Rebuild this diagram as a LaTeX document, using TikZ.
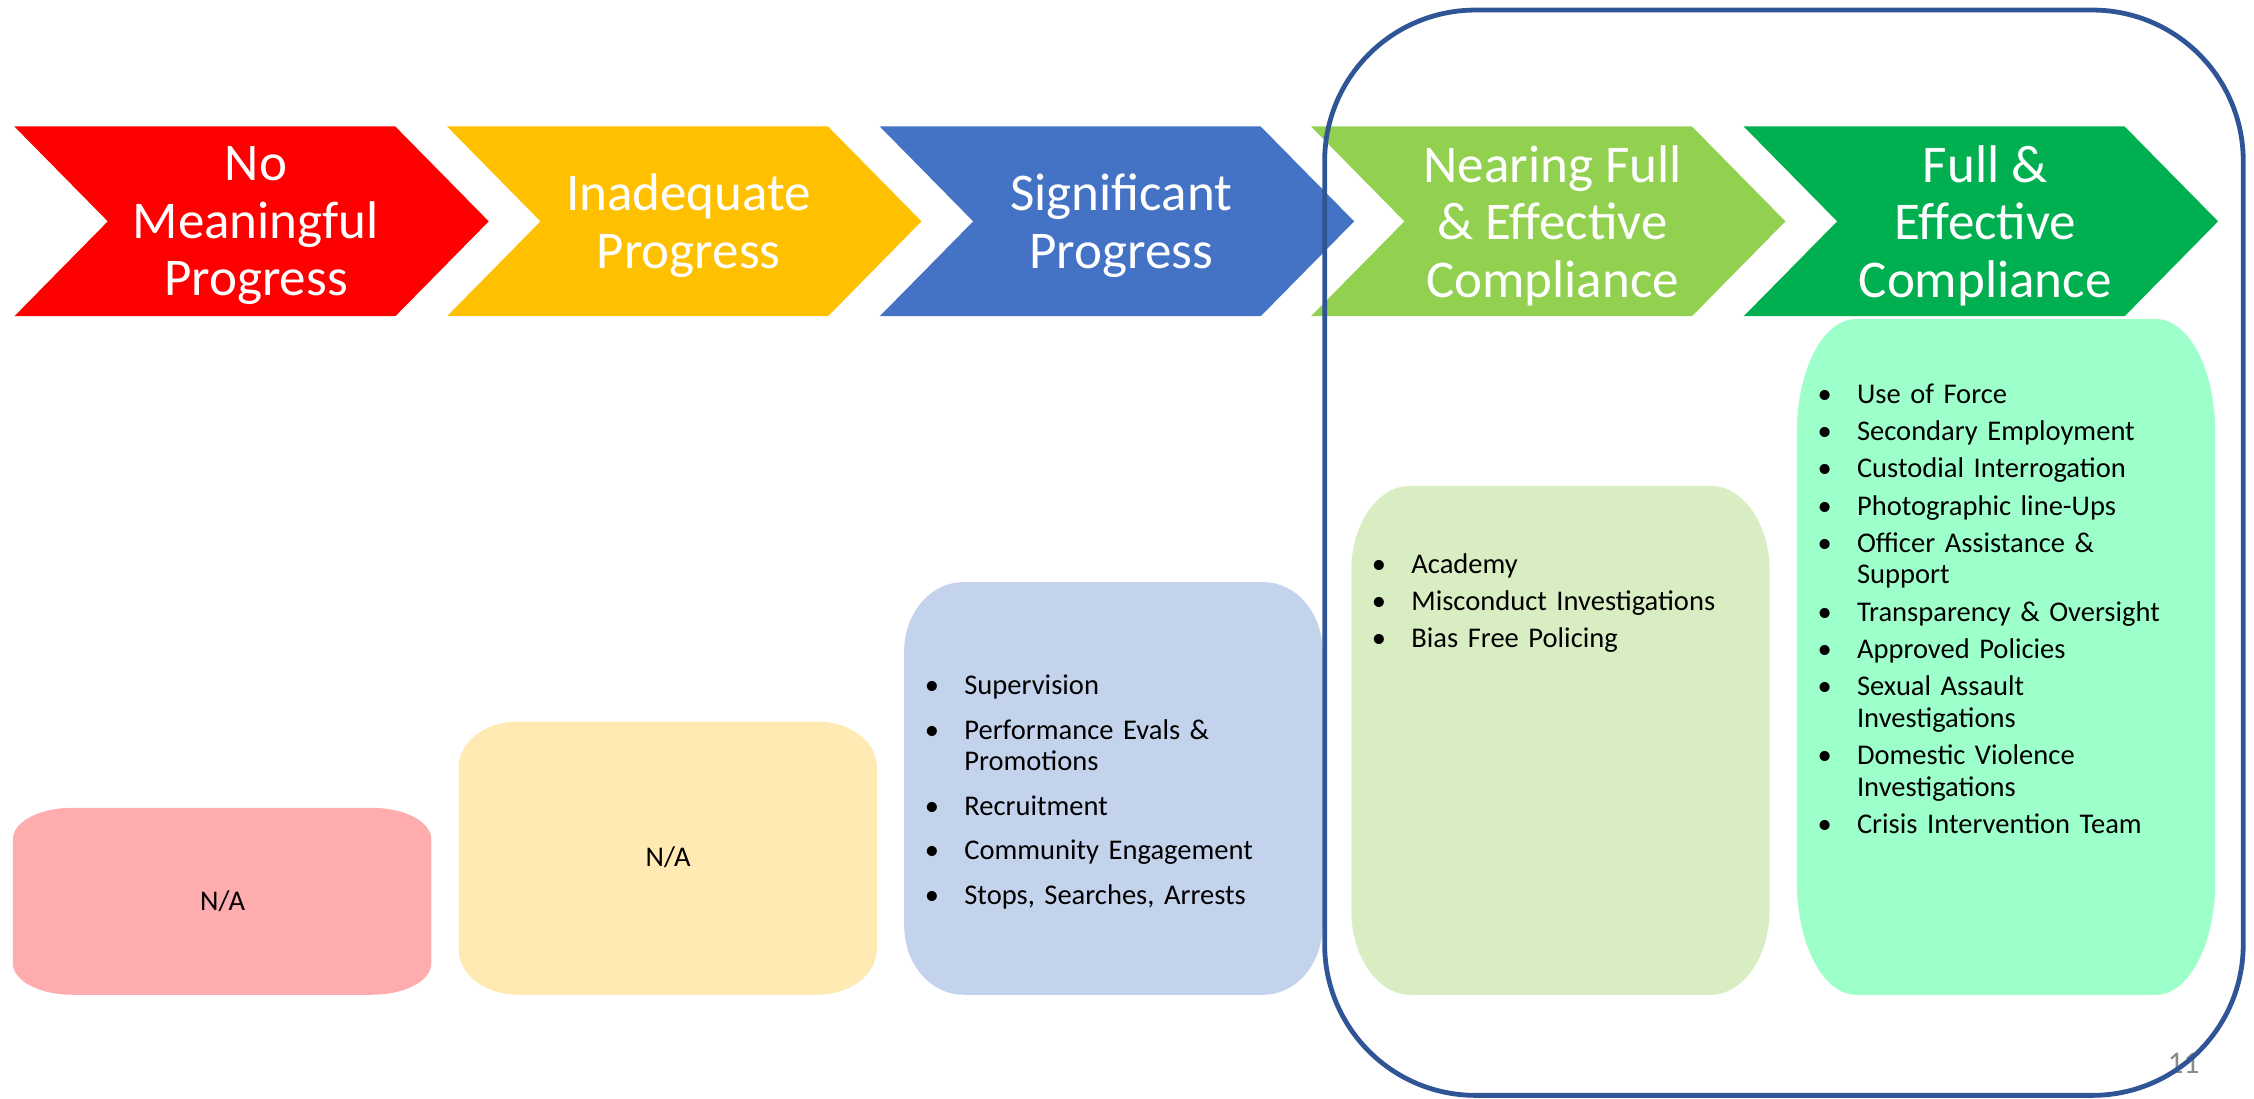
\documentclass[tikz,border=0pt]{standalone}
\usepackage{fontspec}
\setmainfont{Carlito}
\usetikzlibrary{positioning}

\definecolor{chred}{HTML}{FF0000}
\definecolor{chyel}{HTML}{FFC000}
\definecolor{chblu}{HTML}{4472C4}
\definecolor{chlgr}{HTML}{92D050}
\definecolor{chgrn}{HTML}{00B050}
\definecolor{bxred}{HTML}{FFACAE}
\definecolor{bxyel}{HTML}{FFEAB4}
\definecolor{bxblu}{HTML}{C3D3EC}
\definecolor{bxlgr}{HTML}{D9EDC3}
\definecolor{bxgrn}{HTML}{9DFFCA}
\definecolor{frameblue}{HTML}{2F5597}
\definecolor{pagegray}{HTML}{8B8B8B}

% bullet line with hanging indent
\newcommand{\bul}[1]{\hangindent=0.55cm\hangafter=1\noindent\makebox[0.55cm][l]{\textbullet}#1\par}

\tikzset{
  stage/.style={text=white, align=center, inner sep=0pt, font=\fontsize{21}{22.8}\selectfont},
  boxnode/.style={inner sep=0pt, anchor=south west, minimum width=5.82cm, font=\fontsize{11.3}{12.6}\selectfont},
  list/.style={inner sep=0pt, text width=5.3cm, align=left, font=\fontsize{11.3}{12.6}\selectfont},
  frame/.style={draw=frameblue, line width=1.9pt, rounded corners=2.1cm},
  pagenum/.style={text=pagegray, font=\fontsize{12.5}{14}\selectfont}
}

\begin{document}
\begin{tikzpicture}[x=0.02cm, y=0.02cm]

  \useasboundingbox (0,0) rectangle (1568,764);

  % Chevrons
  \foreach \x/\c/\n/\t in {10/chred/nmp/{No\\Meaningful\\Progress},
                           311/chyel/iap/{Inadequate\\Progress},
                           612/chblu/sip/{Significant\\Progress},
                           912/chlgr/nfc/{Nearing Full\\\& Effective\\Compliance},
                           1213/chgrn/ffc/{Full \&\\Effective\\Compliance}} {
    \fill[\c] (\x,676) -- ++(265,0) -- ++(65,-66) -- ++(-65,-66) -- ++(-265,0) -- ++(65,66) -- cycle;
    \node[stage] (\n) at (\x+168,607) {\t};
  }

  % Boxes
  \foreach \x/\h/\c/\i in {9/130/bxred/1, 319/190/bxyel/2, 629/287/bxblu/3,
                           940/354/bxlgr/4, 1250/470/bxgrn/5} {
    \pgfmathsetmacro\ry{\h/6}
    \fill[\c] (\x,72+\ry) -- (\x,72+\h-\ry)
      arc[start angle=180, end angle=90, x radius=41, y radius=\ry] -- (\x+250,72+\h)
      arc[start angle=90, end angle=0, x radius=41, y radius=\ry] -- (\x+291,72+\ry)
      arc[start angle=0, end angle=-90, x radius=41, y radius=\ry] -- (\x+41,72)
      arc[start angle=270, end angle=180, x radius=41, y radius=\ry] -- cycle;
    \node[boxnode, minimum height=0.02cm*\h] (b\i) at (\x,72) {};
  }

  % Box texts
  \node[boxnode, anchor=center] (na1) at (b1) {N/A};
  \node[boxnode, anchor=center] (na2) at (b2) {N/A};
  \node[list, below right=1.58cm and 0.28cm of b3.north west, anchor=base west] (sup)
    {\setlength\parskip{5pt}\bul{Supervision}\bul{Performance Evals \&\newline Promotions}%
     \bul{Recruitment}\bul{Community Engagement}\bul{Stops, Searches, Arrests}};
  \node[list, below right=1.23cm and 0.28cm of b4.north west, anchor=base west] (aca)
    {\setlength\parskip{2.1pt}\bul{Academy}\bul{Misconduct Investigations}\bul{Bias Free Policing}};
  \node[list, below right=1.19cm and 0.28cm of b5.north west, anchor=base west] (uof)
    {\setlength\parskip{2.1pt}\bul{Use of Force}\bul{Secondary Employment}%
     \bul{Custodial Interrogation}\bul{Photographic line-Ups}%
     \bul{Officer Assistance \&\newline Support}\bul{Transparency \& Oversight}%
     \bul{Approved Policies}\bul{Sexual Assault\newline Investigations}%
     \bul{Domestic Violence\newline Investigations}\bul{Crisis Intervention Team}};

  % Page number
  \node[pagenum] (pg) at (1519,24) {11};

  % Frame
  \draw[frame] (921.5,757) rectangle (1560.5,2);

\end{tikzpicture}
\end{document}
